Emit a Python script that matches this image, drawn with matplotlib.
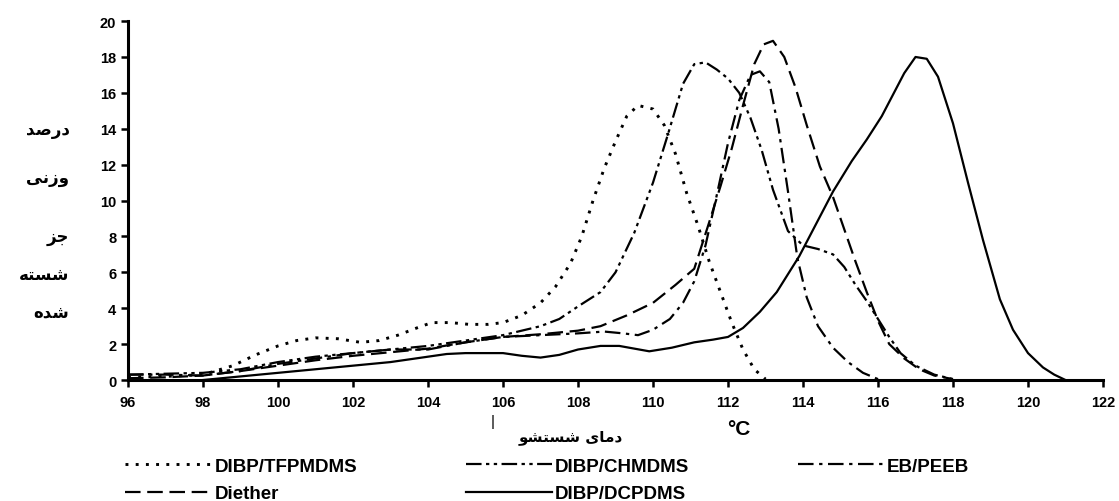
import matplotlib
matplotlib.use("Agg")
import matplotlib.pyplot as plt

# wash temperature (C) vs weight percent of washed fraction
tfp_x = [96, 97, 98, 98.8, 99.4, 100, 100.5, 101, 101.6, 102.2, 102.7, 103.2, 103.7, 104.1, 104.6,
         105.1, 105.6, 106.0, 106.5, 107.0, 107.4, 107.8, 108.1, 108.4, 108.7, 109.0, 109.3, 109.6,
         110.0, 110.3, 110.6, 110.9, 111.2, 111.5, 111.8, 112.1, 112.4, 112.7, 113.0]
tfp_y = [0.15, 0.2, 0.3, 0.8, 1.4, 1.9, 2.2, 2.35, 2.3, 2.1, 2.2, 2.5, 2.9, 3.2, 3.2,
         3.1, 3.1, 3.2, 3.6, 4.3, 5.2, 6.5, 8.0, 10.0, 11.8, 13.3, 14.7, 15.3,
         15.1, 14.2, 12.6, 10.4, 8.6, 6.6, 4.9, 3.2, 1.7, 0.6, 0.05]

chm_x = [96, 97, 98, 99, 100, 101, 102, 103, 104, 105, 106, 107, 107.5, 108, 108.6, 109, 109.5,
         110, 110.4, 110.8, 111.1, 111.4, 111.7, 112, 112.3, 112.6, 112.9, 113.2, 113.6, 114,
         114.4, 114.8, 115.1, 115.4, 115.7, 116, 116.3, 116.6, 117, 117.5, 118]
chm_y = [0.3, 0.35, 0.4, 0.6, 1.0, 1.3, 1.5, 1.7, 1.9, 2.2, 2.5, 3.0, 3.4, 4.1, 4.9, 6.0, 8.2,
         11.0, 13.7, 16.5, 17.6, 17.7, 17.3, 16.8, 16.0, 14.6, 12.8, 10.6, 8.3, 7.5,
         7.3, 7.0, 6.3, 5.3, 4.4, 3.4, 2.4, 1.5, 0.8, 0.3, 0.05]

eb_x = [96, 97, 98, 99, 100, 101, 102, 103, 104, 105, 106, 107, 108, 108.7, 109.2, 109.6, 110,
        110.45, 110.8, 111.1, 111.4, 111.7, 112, 112.3, 112.6, 112.85, 113.1, 113.35, 113.6,
        113.85, 114.1, 114.4, 114.8, 115.2, 115.6, 116]
eb_y = [0.3, 0.3, 0.25, 0.5, 0.9, 1.2, 1.5, 1.7, 1.7, 2.1, 2.4, 2.5, 2.6, 2.7, 2.6, 2.5, 2.8,
        3.4, 4.3, 5.5, 7.5, 10.3, 13.2, 15.6, 17.0, 17.2, 16.6, 14.0, 10.5,
        6.8, 4.6, 3.0, 1.8, 1.0, 0.4, 0.05]

die_x = [96, 97, 98, 99, 100, 101, 102, 103, 104, 105, 106, 107, 108, 108.6, 109.3, 110, 110.6,
         111.1, 111.5, 111.8, 112.1, 112.4, 112.7, 112.95, 113.2, 113.5, 113.8, 114.1, 114.45,
         114.8, 115.1, 115.4, 115.7, 116, 116.3, 116.7, 117.1, 117.5, 118]
die_y = [0.1, 0.15, 0.25, 0.5, 0.8, 1.1, 1.35, 1.55, 1.75, 2.1, 2.4, 2.55, 2.75, 3.0, 3.6, 4.3, 5.3,
         6.2, 8.8, 10.8, 12.9, 15.3, 17.6, 18.7, 18.9, 18.0, 16.3, 14.2, 11.9,
         10.2, 8.4, 6.6, 4.9, 3.3, 2.0, 1.2, 0.6, 0.25, 0.05]

dcp_x = [98, 99, 100, 101, 102, 103, 104, 104.5, 105, 105.5, 106, 106.5, 107, 107.5, 108, 108.6,
         109.1, 109.5, 109.9, 110.5, 111.1, 111.6, 112, 112.4, 112.85, 113.3, 113.9, 114.4, 114.8,
         115.3, 115.7, 116.1, 116.4, 116.7, 117.0, 117.3, 117.6, 118.0, 118.4, 118.8, 119.25,
         119.6, 120, 120.4, 120.7, 121]
dcp_y = [0.0, 0.2, 0.4, 0.6, 0.8, 1.0, 1.3, 1.45, 1.5, 1.5, 1.5, 1.35, 1.25, 1.4, 1.7, 1.9,
         1.9, 1.75, 1.6, 1.8, 2.1, 2.25, 2.4, 2.9, 3.8, 4.9, 6.9, 8.9, 10.5,
         12.2, 13.4, 14.7, 15.9, 17.1, 18.0, 17.9, 16.9, 14.3, 11.0, 7.8, 4.5,
         2.8, 1.5, 0.7, 0.3, 0.0]

x_ticks = list(range(96, 123, 2))
y_ticks = list(range(0, 21, 2))

# Persian text, written with presentation forms in visual order
ylabel_words = ["\uFEAA\uFEBB\uFEAD\uFEA9",        # darsad
                "\uFEF0\uFEE7\uFEAF\uFEED",        # vazni
                "\uFEB0\uFE9F",                    # joz
                "\uFEEA\uFE98\uFEB4\uFEB7",        # shosteh
                "\uFEE9\uFEAA\uFEB7"]              # shodeh
ylabel_vals = [14, 11.3, 8, 5.9, 3.8]
xlabel_fa = "\uFEEE\uFEB8\uFE98\uFEB4\uFEB7 \uFEEF\uFE8E\uFEE3\uFEA9"

plt.rcParams['font.family'] = ['Liberation Sans', 'DejaVu Sans']

fig = plt.figure(figsize=(11.19, 5.02), dpi=100)
ax = fig.add_axes([0.1144, 0.241, 0.8713, 0.715])

lw = 1.6
ax.plot(tfp_x, tfp_y, color='black', lw=2.1, dashes=(1, 2.5), label='DIBP/TFPMDMS')
ax.plot(chm_x, chm_y, color='black', lw=lw, dashes=(7, 2, 1.5, 2, 1.5, 2), label='DIBP/CHMDMS')
ax.plot(eb_x, eb_y, color='black', lw=lw, dashes=(7, 2.5, 1.5, 2.5), label='EB/PEEB')
ax.plot(die_x, die_y, color='black', lw=lw, dashes=(7, 3), label='Diether')
ax.plot(dcp_x, dcp_y, color='black', lw=lw, label='DIBP/DCPDMS')

ax.set_xlim(96, 122)
ax.set_ylim(0, 20)
ax.set_xticks(x_ticks)
ax.set_yticks(y_ticks)
for s in ['top', 'right']:
    ax.spines[s].set_visible(False)
for s in ['left', 'bottom']:
    ax.spines[s].set_linewidth(2.2)
ax.tick_params(axis='both', width=1.8, length=5, labelsize=10.5)
ax.tick_params(axis='x', pad=6)
for lab in ax.get_xticklabels() + ax.get_yticklabels():
    lab.set_fontweight('bold')

for word, val in zip(ylabel_words, ylabel_vals):
    ax.annotate(word, xy=(0, val), xycoords=('figure fraction', 'data'),
                xytext=(50, 0), textcoords='offset points', ha='right', va='center',
                fontsize=12, fontweight='bold', family=['DejaVu Sans'])

fig.text(0.44, 0.16, "|", ha='center', va='center', fontsize=11)
fig.text(0.51, 0.128, xlabel_fa, ha='center', va='center', fontsize=11,
         fontweight='bold', family=['DejaVu Sans'])
fig.text(0.66, 0.145, "\u00b0C", ha='center', va='center', fontsize=15, fontweight='bold')

handles, labels = ax.get_legend_handles_labels()
order = [0, 3, 1, 4, 2]
fig.legend([handles[i] for i in order], [labels[i] for i in order],
           ncol=3, frameon=False, loc='upper left', bbox_to_anchor=(0.112, 0.086),
           prop={'size': 13.5, 'weight': 'bold'}, handlelength=4.6, handletextpad=0.15,
           columnspacing=5.8, labelspacing=0.55, borderpad=0, borderaxespad=0)

fig.savefig("out.png", dpi=100)
